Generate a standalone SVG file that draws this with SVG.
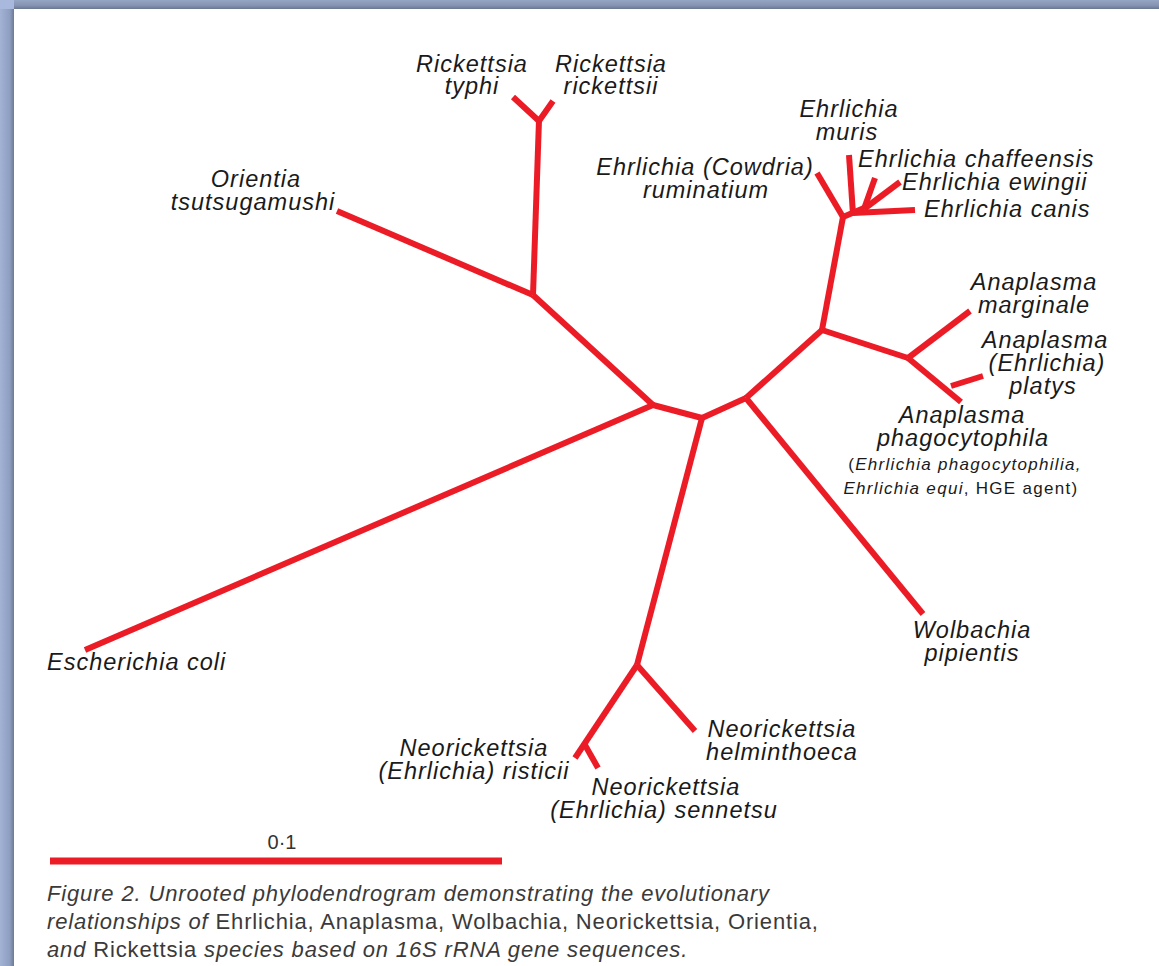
<svg xmlns="http://www.w3.org/2000/svg" width="1159" height="966" viewBox="0 0 1159 966">
<defs>
<linearGradient id="topbar" x1="0" y1="0" x2="0" y2="1">
<stop offset="0" stop-color="#95a5c4"/><stop offset="0.6" stop-color="#8494b2"/><stop offset="1" stop-color="#6b778f"/>
</linearGradient>
<linearGradient id="leftbar" x1="0" y1="0" x2="1" y2="0">
<stop offset="0" stop-color="#a3b3d6"/><stop offset="0.7" stop-color="#8e9ec0"/><stop offset="1" stop-color="#6d7a95"/>
</linearGradient>
<style>
.br{stroke:#ec1c27;stroke-width:6;fill:none;stroke-linecap:butt;stroke-linejoin:round}
.lb{font-family:"Liberation Sans",Arial,sans-serif;font-style:italic;font-size:23.5px;letter-spacing:1px;fill:#1a1a1a;text-anchor:middle}
.ll{text-anchor:start}
.sm{font-family:"Liberation Sans",Arial,sans-serif;font-style:italic;font-size:17px;letter-spacing:1.3px;fill:#1a1a1a;text-anchor:middle}
.up{font-style:normal}
.cap{font-family:"Liberation Sans",Arial,sans-serif;font-style:italic;font-size:22px;letter-spacing:0.85px;fill:#3a3a3a}
.sc{font-family:"Liberation Sans",Arial,sans-serif;font-size:20px;fill:#333;text-anchor:middle}
</style>
</defs>
<rect x="0" y="0" width="1159" height="966" fill="#ffffff"/>
<rect x="0" y="0" width="1159" height="9" fill="url(#topbar)"/>
<rect x="0" y="0" width="14" height="966" fill="url(#leftbar)"/>
<rect x="0" y="0" width="14" height="9" fill="#a9b9de"/>

<g id="connectors">
<polyline class="br" points="85,650 653,405 702,418 746,398"/>
<line class="br" x1="653" y1="405" x2="533" y2="295"/>
<line class="br" x1="533" y1="295" x2="337" y2="211"/>
<line class="br" x1="533" y1="295" x2="539" y2="120"/>
<polyline class="br" points="513,97 539,121 553,101"/>
<line class="br" x1="702" y1="418" x2="637" y2="665"/>
<line class="br" x1="637" y1="665" x2="695" y2="731"/>
<line class="br" x1="637" y1="665" x2="575" y2="758"/>
<line class="br" x1="585" y1="745" x2="598" y2="768"/>
<line class="br" x1="746" y1="398" x2="923" y2="614"/>
<line class="br" x1="746" y1="398" x2="822" y2="330"/>
<line class="br" x1="822" y1="330" x2="908" y2="358"/>
<line class="br" x1="908" y1="358" x2="970" y2="311"/>
<line class="br" x1="908" y1="358" x2="961" y2="402"/>
<line class="br" x1="951" y1="386" x2="983" y2="376"/>
<line class="br" x1="822" y1="330" x2="843" y2="217"/>
<line class="br" x1="843" y1="217" x2="817" y2="173"/>
<line class="br" x1="853" y1="214" x2="849" y2="155"/>
<line class="br" x1="843" y1="217" x2="864" y2="208"/>
<line class="br" x1="864" y1="209" x2="875" y2="178"/>
<line class="br" x1="864" y1="209" x2="900" y2="182"/>
<line class="br" x1="853" y1="213" x2="915" y2="210"/>
</g>

<g id="rickettsia-typhi"><text class="lb" x="472" y="72">Rickettsia</text><text class="lb" x="472" y="94">typhi</text></g>
<g id="rickettsia-rickettsii"><text class="lb" x="611" y="72">Rickettsia</text><text class="lb" x="611" y="94">rickettsii</text></g>
<g id="orientia"><text class="lb" x="256" y="187">Orientia</text><text class="lb" x="253" y="210">tsutsugamushi</text></g>
<g id="ehrlichia-muris"><text class="lb" x="849" y="117">Ehrlichia</text><text class="lb" x="847" y="140">muris</text></g>
<g id="ehrlichia-ruminatium"><text class="lb" x="705" y="175">Ehrlichia (Cowdria)</text><text class="lb" x="706" y="198">ruminatium</text></g>
<g id="ehrlichia-chaffeensis"><text class="lb ll" x="858" y="167">Ehrlichia chaffeensis</text></g>
<g id="ehrlichia-ewingii"><text class="lb ll" x="902" y="190">Ehrlichia ewingii</text></g>
<g id="ehrlichia-canis"><text class="lb ll" x="924" y="217">Ehrlichia canis</text></g>
<g id="anaplasma-marginale"><text class="lb" x="1034" y="290">Anaplasma</text><text class="lb" x="1034" y="313">marginale</text></g>
<g id="anaplasma-platys"><text class="lb" x="1045" y="348">Anaplasma</text><text class="lb" x="1047" y="371">(Ehrlichia)</text><text class="lb" x="1043" y="394">platys</text></g>
<g id="anaplasma-phagocytophila"><text class="lb" x="962" y="423">Anaplasma</text><text class="lb" x="963" y="446">phagocytophila</text>
<text class="sm" x="965" y="470"><tspan class="up">(</tspan>Ehrlichia phagocytophilia,</text>
<text class="sm" x="961" y="494">Ehrlichia equi<tspan class="up">, HGE agent)</tspan></text></g>
<g id="wolbachia"><text class="lb" x="972" y="638">Wolbachia</text><text class="lb" x="972" y="661">pipientis</text></g>
<g id="escherichia"><text class="lb ll" x="47" y="670">Escherichia coli</text></g>
<g id="neorickettsia-helminthoeca"><text class="lb" x="782" y="737">Neorickettsia</text><text class="lb" x="782" y="760">helminthoeca</text></g>
<g id="neorickettsia-risticii"><text class="lb" x="474" y="756">Neorickettsia</text><text class="lb" x="474" y="779">(Ehrlichia) risticii</text></g>
<g id="neorickettsia-sennetsu"><text class="lb" x="666" y="795">Neorickettsia</text><text class="lb" x="664" y="818">(Ehrlichia) sennetsu</text></g>

<g id="scale">
<text class="sc" x="282" y="849">0·1</text>
<line x1="50" y1="861" x2="502" y2="861" stroke="#ec1c27" stroke-width="7"/>
</g>
<g id="caption">
<text class="cap" x="47" y="901">Figure 2. Unrooted phylodendrogram demonstrating the evolutionary</text>
<text class="cap" x="47" y="929">relationships of <tspan class="up">Ehrlichia, Anaplasma, Wolbachia, Neorickettsia, Orientia,</tspan></text>
<text class="cap" x="47" y="957">and <tspan class="up">Rickettsia</tspan> species based on 16S rRNA gene sequences.</text>
</g>
</svg>
